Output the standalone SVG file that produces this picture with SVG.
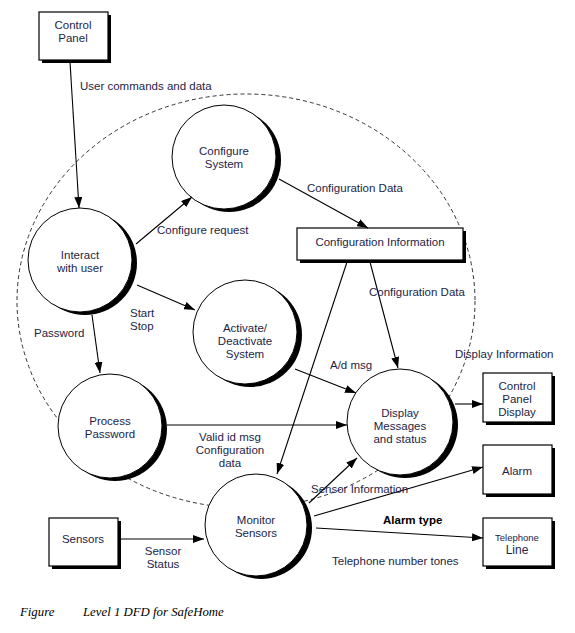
<svg xmlns="http://www.w3.org/2000/svg" width="575" height="633" viewBox="0 0 575 633">
<defs>
<marker id="arr" markerUnits="userSpaceOnUse" markerWidth="12" markerHeight="8" refX="11" refY="4" orient="auto">
<path d="M0,0 L11,4 L0,8 Z" fill="#000"/>
</marker>
</defs>
<style>
text{font-family:"Liberation Sans",Arial,sans-serif;font-size:11.5px;fill:#1e1e46;text-anchor:middle}
.l{text-anchor:start}
.proc{fill:#fff;stroke:#000;stroke-width:1}
.sh{fill:#000}
.box{fill:#fff;stroke:#000;stroke-width:1.2}
.conn line{stroke:#000;stroke-width:1.1;marker-end:url(#arr)}
.cap{font-family:"Liberation Serif","Times New Roman",serif;font-style:italic;font-size:12.8px;fill:#000;text-anchor:start}
</style>
<rect width="575" height="633" fill="#fff"/>
<ellipse id="boundary" cx="246" cy="301" rx="229" ry="207" fill="none" stroke="#333" stroke-width="1" stroke-dasharray="4,3"/>

<g id="control-panel">
<rect x="42" y="15" width="69" height="48" class="sh"/>
<rect x="39" y="12" width="69" height="48" class="box"/>
<text x="73" y="29">Control</text><text x="73" y="42">Panel</text>
</g>
<g id="configure-system">
<circle cx="229" cy="160" r="52" class="sh"/>
<circle cx="224" cy="157" r="52" class="proc"/>
<text x="224" y="155">Configure</text><text x="224" y="168">System</text>
</g>
<g id="interact">
<circle cx="85" cy="263" r="52" class="sh"/>
<circle cx="80" cy="260" r="52" class="proc"/>
<text x="80" y="259">Interact</text><text x="80" y="272">with user</text>
</g>
<g id="activate">
<circle cx="250" cy="335" r="52" class="sh"/>
<circle cx="245" cy="332" r="52" class="proc"/>
<text x="245" y="332">Activate/</text><text x="245" y="345">Deactivate</text><text x="245" y="358">System</text>
</g>
<g id="process-password">
<circle cx="115" cy="429" r="52" class="sh"/>
<circle cx="110" cy="426" r="52" class="proc"/>
<text x="110" y="425">Process</text><text x="110" y="438">Password</text>
</g>
<g id="display-messages">
<circle cx="405" cy="425" r="53" class="sh"/>
<circle cx="400" cy="422" r="53" class="proc"/>
<text x="400" y="417">Display</text><text x="400" y="430">Messages</text><text x="400" y="443">and status</text>
</g>
<g id="monitor-sensors">
<circle cx="261" cy="528" r="51" class="sh"/>
<circle cx="256" cy="525" r="51" class="proc"/>
<text x="256" y="524">Monitor</text><text x="256" y="537">Sensors</text>
</g>
<g id="configuration-information">
<rect x="300" y="231" width="166" height="32" class="sh"/>
<rect x="297" y="228" width="166" height="32" class="box"/>
<text x="380" y="246">Configuration Information</text>
</g>
<g id="control-panel-display">
<rect x="486" y="376" width="69" height="49" class="sh"/>
<rect x="483" y="373" width="69" height="49" class="box"/>
<text x="517" y="390">Control</text><text x="517" y="403">Panel</text><text x="517" y="416">Display</text>
</g>
<g id="alarm">
<rect x="486" y="448" width="69" height="49" class="sh"/>
<rect x="483" y="445" width="69" height="49" class="box"/>
<text x="517" y="475">Alarm</text>
</g>
<g id="telephone-line">
<rect x="486" y="521" width="69" height="48" class="sh"/>
<rect x="483" y="518" width="69" height="48" class="box"/>
<text x="517" y="541" style="font-size:9.5px">Telephone</text><text x="517" y="554" style="font-size:12px">Line</text>
</g>
<g id="sensors">
<rect x="52" y="521" width="69" height="48" class="sh"/>
<rect x="49" y="518" width="69" height="48" class="box"/>
<text x="83" y="543">Sensors</text>
</g>

<g id="connectors" class="conn">
<line x1="70" y1="62" x2="79" y2="208"/>
<line x1="136" y1="244" x2="192" y2="197"/>
<line x1="279" y1="179" x2="368" y2="228"/>
<line x1="137" y1="285" x2="195" y2="310"/>
<line x1="92" y1="315" x2="100" y2="373"/>
<line x1="370" y1="262" x2="398" y2="368"/>
<line x1="347" y1="262" x2="277" y2="474"/>
<line x1="295" y1="369" x2="356" y2="393"/>
<line x1="167" y1="425" x2="347" y2="425"/>
<line x1="309" y1="503" x2="357" y2="458"/>
<line x1="314" y1="516" x2="483" y2="467"/>
<line x1="316" y1="528" x2="483" y2="538"/>
<line x1="455" y1="404" x2="483" y2="404"/>
<line x1="120" y1="539" x2="204" y2="539"/>
</g>

<g id="labels">
<text class="l" x="80" y="90">User commands and data</text>
<text class="l" x="157" y="234">Configure request</text>
<text class="l" x="307" y="192">Configuration Data</text>
<text class="l" x="130" y="317">Start</text><text class="l" x="130" y="330">Stop</text>
<text class="l" x="34" y="337">Password</text>
<text class="l" x="369" y="296">Configuration Data</text>
<text class="l" x="330" y="369">A/d msg</text>
<text class="l" x="455" y="358">Display Information</text>
<text x="230" y="441">Valid id msg</text><text x="230" y="454">Configuration</text><text x="230" y="467">data</text>
<text class="l" x="311" y="493">Sensor Information</text>
<text class="l" x="383" y="524" style="font-weight:bold;fill:#000">Alarm type</text>
<text class="l" x="332" y="565">Telephone number tones</text>
<text x="163" y="555">Sensor</text><text x="163" y="568">Status</text>
<text class="cap" x="20" y="616">Figure</text>
<text class="cap" x="83" y="616">Level 1 DFD for SafeHome</text>
</g>
</svg>
